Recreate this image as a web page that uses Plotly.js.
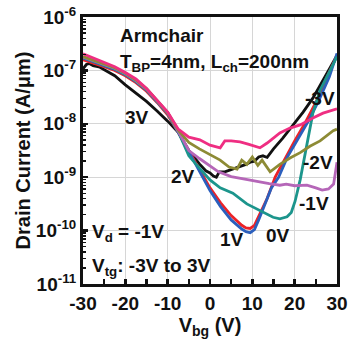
<!DOCTYPE html>
<html>
<head>
<meta charset="utf-8">
<script src="https://cdn.plot.ly/plotly-3.0.1.min.js"></script>
<style>html,body{margin:0;padding:0;background:#fff;}#chart{width:350px;height:339px;}</style>
</head>
<body>
<div id="chart"></div>
<script>
// Vtg = 3V (black)
const x3 = [-30, -29.2, -28.5, -27.6, -26, -25, -22.5, -20, -17.5, -15, -12.5, -10, -7.5, -5, -2.5, -1, 0, 0.8, 1.5, 2.2, 3.5, 5, 7, 8.5, 9.5, 10.5, 11.5, 12.5, 13.5, 15, 17.2, 19.6, 22, 24.3, 27, 30];
const logI3 = [-6.97, -6.89, -6.87, -6.91, -6.94, -6.99, -7.1, -7.27, -7.42, -7.58, -7.76, -7.95, -8.16, -8.5, -8.75, -8.88, -8.92, -8.98, -9.0, -8.9, -8.9, -8.86, -8.8, -8.76, -8.72, -8.7, -8.62, -8.6, -8.63, -8.47, -8.27, -8.03, -7.78, -7.52, -7.15, -6.72];
// Vtg = 2V (red)
const x2 = [-30, -27.5, -25, -22.5, -20, -17.5, -15, -12.5, -10, -7.5, -5, -2.5, 0, 2.5, 5, 7.5, 8.5, 9.5, 10.5, 12, 13.5, 15.4, 17.5, 20, 22.5, 25, 27.5, 30];
const logI2 = [-6.8, -6.86, -6.93, -7.0, -7.1, -7.23, -7.39, -7.6, -7.83, -8.16, -8.5, -8.85, -9.2, -9.48, -9.72, -9.9, -9.95, -9.96, -9.9, -9.65, -9.4, -9.0, -8.68, -8.32, -7.98, -7.6, -7.15, -6.72];
// Vtg = 1V (blue)
const x1 = [-30, -27.5, -25, -22.5, -20, -17.5, -15, -12.5, -10, -7.5, -5, -2.5, 0, 2.5, 5, 7.5, 8.5, 9.5, 10.5, 11.5, 13, 14.5, 16.2, 18.3, 20.8, 23.3, 25.8, 28.2, 30];
const logI1 = [-6.77, -6.84, -6.91, -6.98, -7.08, -7.21, -7.37, -7.58, -7.81, -8.16, -8.52, -8.9, -9.25, -9.55, -9.8, -9.97, -10.02, -10.04, -9.98, -9.8, -9.5, -9.2, -9.0, -8.62, -8.28, -7.94, -7.55, -7.12, -6.68];
// Vtg = 0V (teal)
const x0 = [-30, -27.5, -25, -22.5, -20, -17.5, -15, -12.5, -10, -7.5, -5, -2.5, 0, 2.4, 5.4, 8.7, 11.8, 14.9, 16.5, 18.2, 19.2, 20.1, 21.3, 22.9, 24.3, 26, 27.6, 30];
const logI0 = [-6.76, -6.83, -6.9, -6.97, -7.07, -7.2, -7.36, -7.57, -7.8, -8.15, -8.6, -8.83, -9.05, -9.2, -9.3, -9.5, -9.63, -9.75, -9.78, -9.74, -9.66, -9.45, -9.05, -8.42, -7.8, -7.37, -7.12, -6.74];
// Vtg = -1V (purple)
const xm1 = [-30, -27.5, -25, -22.5, -20, -17.5, -15, -12.5, -10, -7.5, -5, -2.5, 0, 2, 5, 7, 8.7, 10.5, 12, 14, 16.5, 18, 20, 22.9, 25, 26.5, 28, 29.2, 30];
const logIm1 = [-6.75, -6.82, -6.89, -6.96, -7.06, -7.19, -7.35, -7.56, -7.79, -8.14, -8.5, -8.65, -8.78, -8.9, -8.99, -9.02, -9.05, -9.08, -9.1, -9.12, -9.15, -9.13, -9.16, -9.15, -9.2, -9.24, -9.22, -9.13, -8.72];
// Vtg = -2V (olive)
const xm2 = [-30, -27.5, -25, -22.5, -20, -17.5, -15, -12.5, -10, -7.5, -5, -2.5, 0, 2.4, 4.5, 6.4, 7.5, 8.7, 10, 11.3, 12.3, 14.2, 16.5, 18.9, 21.3, 23.6, 26, 27.6, 29.1, 30];
const logIm2 = [-6.74, -6.81, -6.88, -6.95, -7.05, -7.18, -7.34, -7.56, -7.79, -8.12, -8.35, -8.47, -8.58, -8.68, -8.81, -8.85, -8.68, -8.76, -8.62, -8.78, -8.68, -8.9, -8.76, -8.64, -8.54, -8.42, -8.32, -8.22, -8.13, -8.1];
// Vtg = -3V (pink)
const xm3 = [-30, -27.5, -25, -22.5, -20, -17.5, -15, -12.5, -10, -7.5, -5, -2.4, 0, 2.4, 3.5, 5, 7.1, 9, 11.8, 13.5, 16.5, 18.9, 21.3, 24.3, 26.7, 30];
const logIm3 = [-6.69, -6.77, -6.85, -6.93, -7.04, -7.16, -7.34, -7.55, -7.78, -8.1, -8.25, -8.3, -8.4, -8.45, -8.32, -8.32, -8.34, -8.38, -8.45, -8.36, -8.17, -8.08, -8.02, -7.89, -7.8, -7.72];

const xTickVals = [-30, -20, -10, 0, 10, 20, 30];
const xTickText = ["-30", "-20", "-10", "0", "10", "20", "30"];
const yTickVals = [1e-11, 1e-10, 1e-9, 1e-8, 1e-7, 1e-6];
const yTickText = ["10<sup>-11</sup>", "10<sup>-10</sup>", "10<sup>-9</sup>", "10<sup>-8</sup>", "10<sup>-7</sup>", "10<sup>-6</sup>"];

const pow = a => a.map(v => Math.pow(10, v));
const series = [
  {name: "3V", x: x3, y: logI3, color: "#111111"},
  {name: "2V", x: x2, y: logI2, color: "#ec2227"},
  {name: "1V", x: x1, y: logI1, color: "#2b5fbd"},
  {name: "0V", x: x0, y: logI0, color: "#1c958c"},
  {name: "-1V", x: xm1, y: logIm1, color: "#b566b8"},
  {name: "-2V", x: xm2, y: logIm2, color: "#8d8b35"},
  {name: "-3V", x: xm3, y: logIm3, color: "#ef2e82"}
];
const traces = series.map(s => ({
  type: "scatter", mode: "lines", name: s.name, x: s.x, y: pow(s.y),
  line: {color: s.color, width: 2.8}, hoverinfo: "skip"
}));

const F = "Liberation Sans, Arial, sans-serif";
const px = (p) => (p - 83) / 254;
const py = (p) => (284 - p) / 267;
function lab(text, x, y, xa) {
  return {text: text, xref: "paper", yref: "paper", x: px(x), y: py(y), xanchor: xa || "center", yanchor: "middle", showarrow: false, font: {size: 19, family: F, color: "#111", weight: "bold"}};
}
const layout = {
  width: 350, height: 339,
  margin: {l: 83, r: 13, t: 17, b: 55},
  paper_bgcolor: "#fff", plot_bgcolor: "#fff",
  showlegend: false,
  font: {family: F, size: 18, color: "#111", weight: "bold"},
  xaxis: {
    range: [-30, 30], tickmode: "array", tickvals: xTickVals, ticktext: xTickText,
    ticks: "inside", ticklen: 5, tickwidth: 2.5, tickcolor: "#111",
    minor: {dtick: 5, ticks: "inside", ticklen: 5, tickwidth: 2.5, tickcolor: "#111", showgrid: false},
    showline: true, linewidth: 3, linecolor: "#111", mirror: true,
    showgrid: true, gridcolor: "#d6d6d6", gridwidth: 1, zeroline: false,
    tickfont: {size: 19, family: F, weight: "bold"},
    title: {text: "V<sub>bg</sub> (V)", font: {size: 20, family: F, weight: "bold"}, standoff: 3}
  },
  yaxis: {
    type: "log", range: [-11, -6], tickmode: "array", tickvals: yTickVals, ticktext: yTickText,
    ticks: "inside", ticklen: 5, tickwidth: 2.5, tickcolor: "#111",
    minor: {dtick: "D1", ticks: "inside", ticklen: 3, tickwidth: 1.5, tickcolor: "#111", showgrid: false},
    showline: true, linewidth: 3, linecolor: "#111", mirror: true,
    showgrid: true, gridcolor: "#d6d6d6", gridwidth: 1, zeroline: false,
    tickfont: {size: 19, family: F, weight: "bold"},
    title: {text: "Drain Current (A/μm)", font: {size: 20, family: F, weight: "bold"}, standoff: 0}
  },
  annotations: [
    lab("3V", 137, 117), lab("2V", 183, 176), lab("1V", 232, 239), lab("0V", 278, 235),
    lab("-1V", 314, 204), lab("-2V", 318, 162), lab("-3V", 320, 99),
    lab("Armchair", 118, 35, "left"),
    lab("T<sub>BP</sub>=4nm, L<sub>ch</sub>=200nm", 118, 63, "left"),
    lab("V<sub>d</sub> = -1V", 90, 233, "left"),
    lab("V<sub>tg</sub>: -3V to 3V", 90, 267, "left")
  ]
};
Plotly.newPlot("chart", traces, layout, {displayModeBar: false, staticPlot: true});
</script>
</body>
</html>
